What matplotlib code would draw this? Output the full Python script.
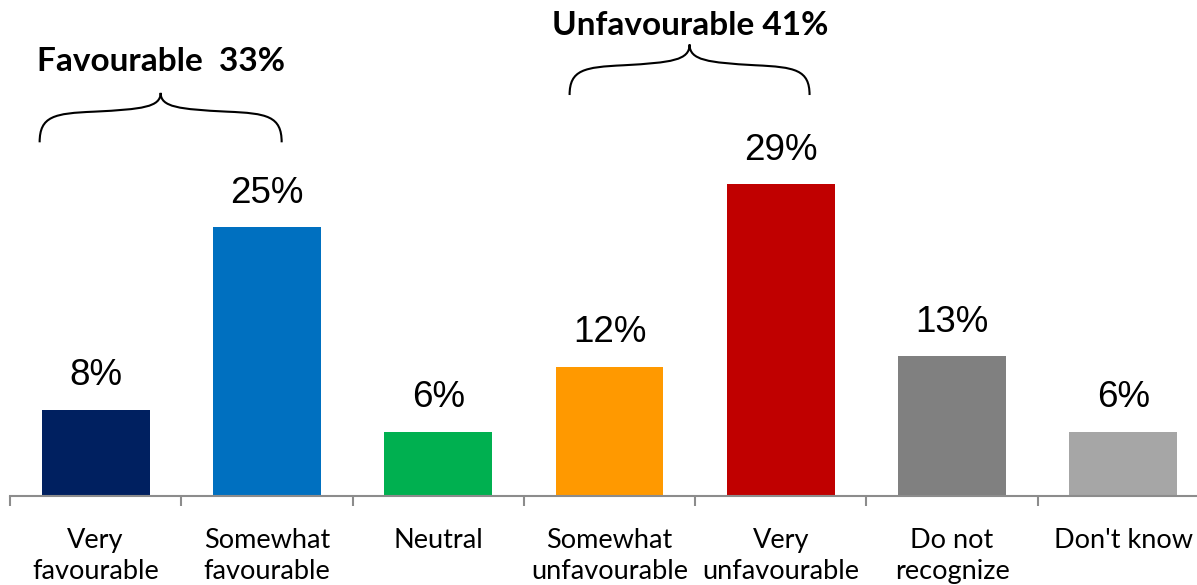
import numpy as np
import matplotlib
matplotlib.use('Agg')
import matplotlib.pyplot as plt
from matplotlib.path import Path
from matplotlib.patches import PathPatch

# data
categories = ['Very\nfavourable', 'Somewhat\nfavourable', 'Neutral', 'Somewhat\nunfavourable',
              'Very\nunfavourable', 'Do not\nrecognize', "Don't know"]
values = [8, 25, 6, 12, 29, 13, 6]
value_labels = ['8%', '25%', '6%', '12%', '29%', '13%', '6%']
bar_colors = ['#002060', '#0070C0', '#00B050', '#FF9900', '#C00000', '#808080', '#A6A6A6']

groups = ['Favourable  33%', 'Unfavourable 41%']

W, H = 1197, 585
fig = plt.figure(figsize=(W / 100, H / 100), dpi=100)
# axes spans a bit past the right edge, like the original slide crop
ax = fig.add_axes([10 / W, 89 / H, 1199 / W, 430 / H])

x = np.arange(len(categories))
ax.bar(x, values, width=0.63, color=bar_colors)
ax.set_xlim(-0.5, len(categories) - 0.5)
ax.set_ylim(0, 40)

for xi, v, lab in zip(x, values, value_labels):
    ax.annotate(lab, (xi, v), xytext=(0, 12), textcoords='offset points',
                ha='center', va='bottom', fontsize=26.5, family='Liberation Sans')

# axis styling
for s in ['top', 'left', 'right']:
    ax.spines[s].set_visible(False)
ax.spines['bottom'].set_color('#8c8c8c')
ax.spines['bottom'].set_linewidth(1.5)
ax.set_yticks([])
ax.set_xticks(x)
ax.set_xticklabels(categories, fontsize=19.5, family='Lato', linespacing=1.3)
ax.tick_params(axis='x', which='major', length=0, pad=23)
ax.set_xticks(np.arange(-0.5, len(categories)), minor=True)
ax.tick_params(axis='x', which='minor', length=7, width=1.5, color='#8c8c8c')

# curly braces above the groups
def brace(ax, x0, x1, y_end, y_arm, y_tip):
    xm = (x0 + x1) / 2
    verts, codes = [], []
    for a in [x0, x1]:
        d = xm - a
        pts = [(a, y_end), (a, y_arm + (y_end - y_arm) * 0.1), (a + d * 0.12, y_arm),
               (a + d * 0.45, y_arm + (y_tip - y_arm) * 0.08),
               (xm - d * 0.15, y_arm + (y_tip - y_arm) * 0.2),
               (xm, y_arm + (y_tip - y_arm) * 0.3), (xm, y_tip)]
        verts += pts
        codes += [Path.MOVETO] + [Path.CURVE4] * 6
    ax.add_patch(PathPatch(Path(verts, codes), fill=False, lw=1.5, color='black', clip_on=False))

brace(ax, -0.327, 1.086, 32.9, 35.6, 37.5)
brace(ax, 2.767, 4.168, 37.3, 39.9, 42.0)

ax.text(0.38, 40.4, groups[0], ha='center', va='center', fontsize=24, fontweight='bold',
        family='Lato', clip_on=False)
ax.text(3.47, 43.8, groups[1], ha='center', va='center', fontsize=24, fontweight='bold',
        family='Lato', clip_on=False)

fig.savefig('out.png', dpi=100)
